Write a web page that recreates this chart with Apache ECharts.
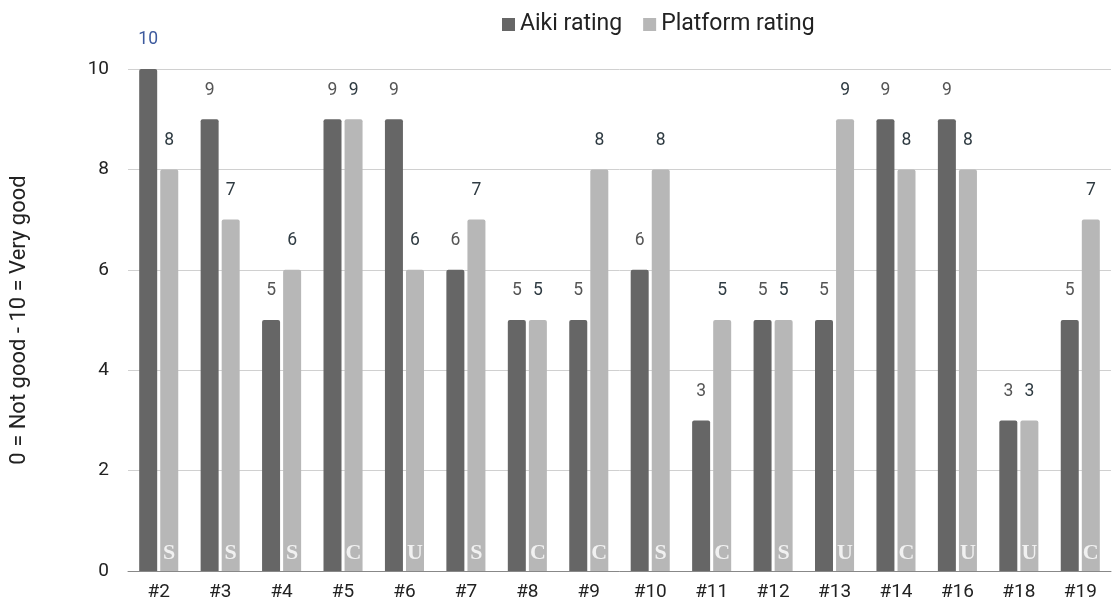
<!DOCTYPE html>
<html>
<head>
<meta charset="utf-8">
<script src="https://cdn.jsdelivr.net/npm/echarts@6/dist/echarts.min.js"></script>
<style>
html,body{margin:0;padding:0;background:#fff;}
#chart{width:1119px;height:604px;}
</style>
</head>
<body>
<div id="chart"></div>
<script>
const categories = ['#2','#3','#4','#5','#6','#7','#8','#9','#10','#11','#12','#13','#14','#16','#18','#19'];
const aikiRating = [10,9,5,9,9,6,5,5,6,3,5,5,9,9,3,5];
const platformRating = [8,7,6,9,6,7,5,8,8,5,5,9,8,8,3,7];
const platformType = ['S','S','S','C','U','S','C','C','S','C','S','U','C','U','U','C'];
const yTicks = [0,2,4,6,8,10];

const chart = echarts.init(document.getElementById('chart'));
const font = 'Roboto, "Noto Sans", sans-serif';

chart.setOption({
  animation: false,
  backgroundColor: '#fff',
  textStyle: { fontFamily: font },
  legend: {
    data: ['Aiki rating', 'Platform rating'],
    top: 8,
    left: 497,
    icon: 'rect',
    itemWidth: 13,
    itemHeight: 13,
    itemGap: 21,
    textStyle: { fontSize: 23, color: '#222', fontFamily: font }
  },
  grid: { left: 126, right: 8, top: 69, bottom: 33 },
  xAxis: {
    type: 'category',
    data: categories,
    axisTick: { show: false },
    axisLine: { lineStyle: { color: '#888', width: 1 } },
    axisLabel: { fontSize: 19, color: '#222', margin: 12, fontFamily: font }
  },
  yAxis: {
    type: 'value',
    min: yTicks[0],
    max: yTicks[yTicks.length - 1],
    interval: 2,
    name: '0 = Not good - 10 = Very good',
    nameLocation: 'middle',
    nameGap: 98,
    nameRotate: 90,
    nameTextStyle: { fontSize: 22, color: '#222', fontFamily: font, padding: [0, 0, 0, 0] },
    axisLabel: { fontSize: 19, color: '#222', margin: 19, fontFamily: font },
    splitLine: { lineStyle: { color: '#d0d0d0' } },
    axisLine: { show: false },
    axisTick: { show: false }
  },
  series: [
    {
      name: 'Aiki rating',
      type: 'bar',
      barWidth: 18,
      barGap: '17%',
      data: aikiRating.map(v => ({
        value: v,
        label: v === 10 ? { color: '#3d5a9e' } : undefined
      })),
      itemStyle: { color: '#666666', borderRadius: [2, 2, 0, 0] },
      label: { show: true, position: 'top', distance: 20, fontSize: 17.5, color: '#555', fontFamily: font }
    },
    {
      name: 'Platform rating',
      type: 'bar',
      barWidth: 18,
      data: platformRating,
      itemStyle: { color: '#b7b7b7', borderRadius: [2, 2, 0, 0] },
      label: { show: true, position: 'top', distance: 20, fontSize: 17.5, color: '#2f3b42', fontFamily: font }
    },
    {
      name: 'type',
      type: 'scatter',
      symbolSize: 0,
      silent: true,
      z: 10,
      data: platformType.map(() => 0),
      label: {
        show: true,
        position: 'inside',
        offset: [10.5, -18],
        formatter: p => platformType[p.dataIndex],
        color: '#fff',
        fontSize: 22,
        fontWeight: 'bold',
        fontFamily: '"Liberation Serif", "DejaVu Serif", serif'
      }
    }
  ]
});
</script>
</body>
</html>
